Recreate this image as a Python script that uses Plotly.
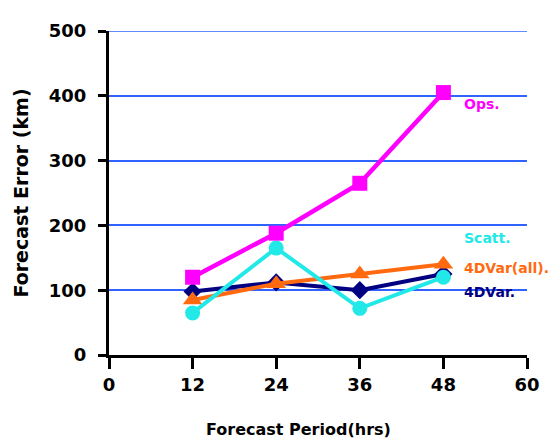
import plotly.graph_objects as go

periods = [12, 24, 36, 48]
ops = [120, 188, 265, 405]
scatt = [65, 165, 72, 120]
dvar_all = [85, 110, 125, 140]
dvar = [98, 112, 100, 125]

x_ticks = [0, 12, 24, 36, 48, 60]
y_ticks = [0, 100, 200, 300, 400, 500]

label_x = 50.9
labels = [
    ("Ops.", 388, "#FF00FF"),
    ("Scatt.", 180, "#22E8E8"),
    ("4DVar(all).", 134, "#FF6A10"),
    ("4DVar.", 98, "#000080"),
]

# page body has an 8px margin; compensate so the plot sits where the reference has it
OFF = 8
W, H = 558 - OFF, 439 - OFF
L, R, T, B = 108 - OFF, 31, 26 - OFF, 84
GRID = "#2F62FF"

fig = go.Figure()
fig.add_trace(go.Scatter(x=periods, y=dvar, mode="lines+markers",
                         line=dict(color="#000080", width=4),
                         marker=dict(symbol="diamond", size=14, color="#000080")))
fig.add_trace(go.Scatter(x=periods, y=dvar_all, mode="lines+markers",
                         line=dict(color="#FF6A10", width=4),
                         marker=dict(symbol="triangle-up", size=17, color="#FF6A10")))
fig.add_trace(go.Scatter(x=periods, y=scatt, mode="lines+markers",
                         line=dict(color="#22E8E8", width=4),
                         marker=dict(symbol="circle", size=15, color="#22E8E8")))
fig.add_trace(go.Scatter(x=periods, y=ops, mode="lines+markers",
                         line=dict(color="#FF00FF", width=4.5),
                         marker=dict(symbol="square", size=15, color="#FF00FF")))

# top gridline (at the last y tick), which plotly omits at the plot edge
fig.add_shape(type="line", xref="paper", yref="y", x0=0, x1=1,
              y0=y_ticks[-1], y1=y_ticks[-1], line=dict(color=GRID, width=1.5), layer="below")

pw = W - L - R
ph = H - T - B
anns = []
for text, yv, col in labels:
    anns.append(dict(x=label_x, y=yv, xref="x", yref="y", text=text, showarrow=False,
                     xanchor="left", yanchor="middle", xshift=-2,
                     font=dict(family="DejaVu Sans", size=14, color=col, weight="bold")))
anns.append(dict(x=(298 - 108) / pw, y=-(431 - 355) / ph, xref="paper", yref="paper",
                 text="Forecast Period(hrs)", showarrow=False, yanchor="middle",
                 font=dict(family="DejaVu Sans", size=16, color="black", weight="bold")))

fig.update_layout(
    width=W, height=H,
    margin=dict(l=L, r=R, t=T, b=B),
    paper_bgcolor="white", plot_bgcolor="white",
    showlegend=False,
    font=dict(family="DejaVu Sans", size=18, color="black"),
    annotations=anns,
    xaxis=dict(range=[0, 60], tickvals=x_ticks, ticktext=[str(v) for v in x_ticks],
               showgrid=False, zeroline=False, showline=True, linecolor="black", linewidth=3,
               ticks="outside", ticklen=11, tickwidth=3, tickcolor="black",
               tickfont=dict(family="DejaVu Sans", size=18, color="black", weight="bold"),
               ticklabelstandoff=0),
    yaxis=dict(range=[0, 500], tickvals=y_ticks, ticktext=[str(v) for v in y_ticks],
               showgrid=True, gridcolor=GRID, gridwidth=1.5, zeroline=False,
               showline=True, linecolor="black", linewidth=3,
               ticks="outside", ticklen=8, tickwidth=3, tickcolor="black",
               tickfont=dict(family="DejaVu Sans", size=18, color="black", weight="bold"),
               ticklabelstandoff=8,
               title=dict(text="Forecast Error (km)", standoff=16,
                          font=dict(family="DejaVu Sans", size=19, color="black", weight="bold"))),
)
fig.write_html("out.html")
